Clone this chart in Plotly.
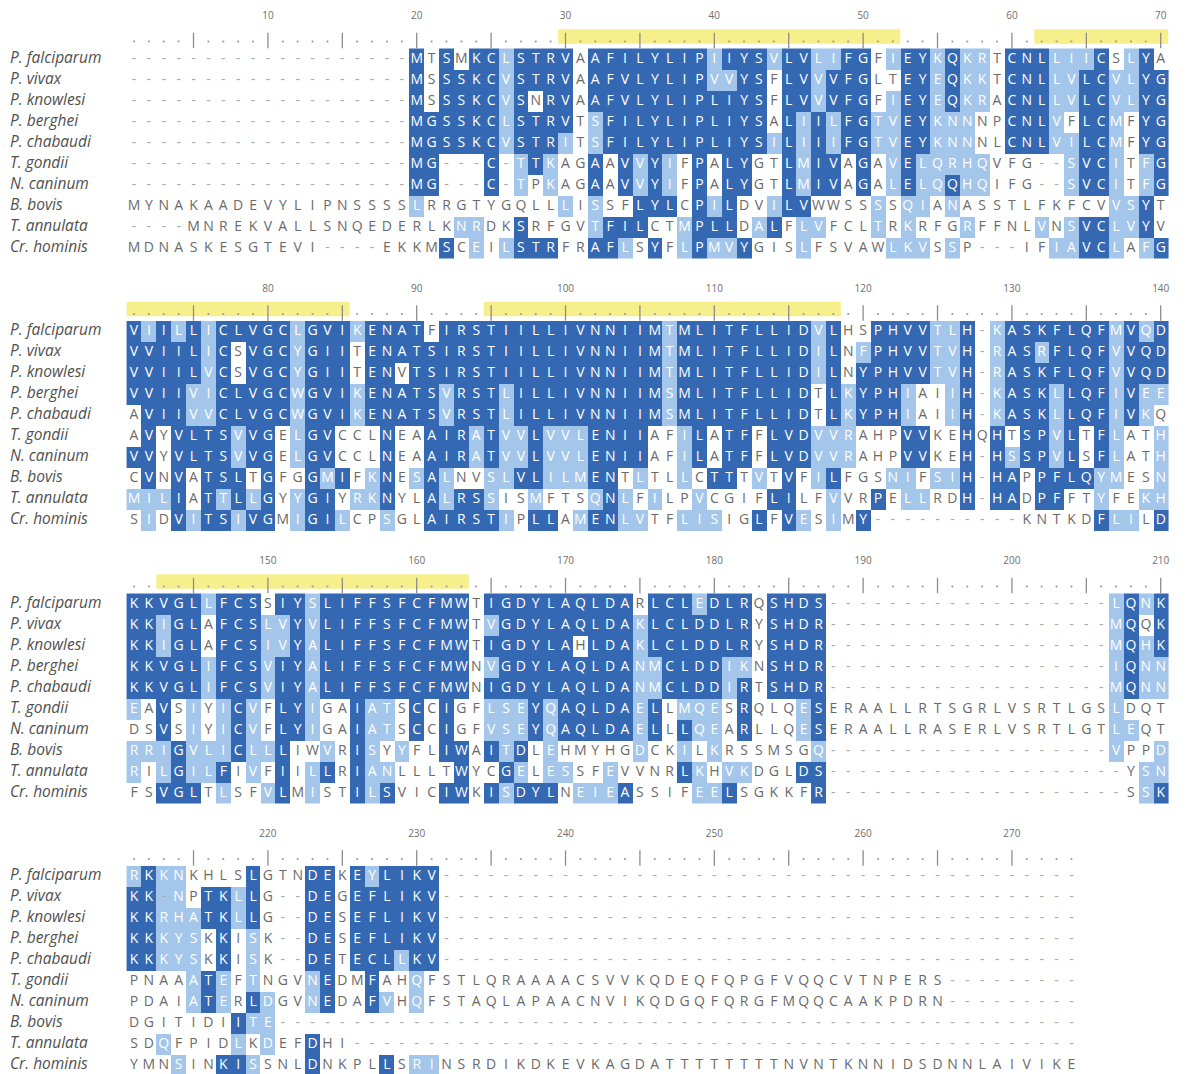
import plotly.graph_objects as go

# ---------------- data ----------------
SPECIES = ["P. falciparum", "P. vivax", "P. knowlesi", "P. berghei", "P. chabaudi",
           "T. gondii", "N. caninum", "B. bovis", "T. annulata", "Cr. hominis"]

# alignment columns 1-70
SEQ_BLOCK1 = [
    "-------------------MTSMKCLSTRVAAFILYLIPIIYSVLVLIFGFIEYKQKRTCNLLIICSLYA",
    "-------------------MSSSKCVSTRVAAFVLYLIPVVYSFLVVVFGLTEYEQKKTCNLLVLCVLYG",
    "-------------------MSSSKCVSNRVAAFVLYLIPLIYSFLVVVFGFIEYEQKRACNLLVLCVLYG",
    "-------------------MGSSKCLSTRVTSFILYLIPLIYSALIILFGTVEYKNNNPCNLVFLCMFYG",
    "-------------------MGSSKCVSTRITSFILYLIPLIYSILIIIFGTVEYKNNNLCNLVILCMFYG",
    "-------------------MG---C-TTKAGAAVVYIFPALYGTLMIVAGAVELQRHQVFG--SVCITFG",
    "-------------------MG---C-TPKAGAAVVYIFPALYGTLMIVAGALELQQHQIFG--SVCITFG",
    "MYNAKAADEVYLIPNSSSSLRRGTYGQLLLISSFLYLCPILDVILVWWSSSSQIANASSTLFKFCVVSYT",
    "----MNREKVALLSNQEDERLKNRDKSRFGVTFILCTMPLLDALFLVFCLTRKRFGRFFNLVNSVCLVYV",
    "MDNASKESGTEVI----EKKMSCEILSTRFRAFLSYFLPMVYGISLFSVAWLKVSSP---IFIAVCLAFG",
]
# alignment columns 71-140
SEQ_BLOCK2 = [
    "VIILLICLVGCLGVIKENATFIRSTIILLIVNNIIMTMLITFLLIDVLHSPHVVTLH-KASKFLQFMVQD",
    "VVIILICSVGCYGIITENATSIRSTIILLIVNNIIMTMLITFLLIDILNFPHVVTVH-RASRFLQFVVQD",
    "VVIILVCSVGCYGIITENVTSIRSTIILLIVNNIIMTMLITFLLIDILNYPHVVTVH-RASKFLQFVVQD",
    "VVIIVICLVGCWGVIKENATSVRSTLILLIVNNIIMSMLITFLLIDTLKYPHIAIIH-KASKLLQFIVEE",
    "AVIIVVCLVGCWGVIKENATSVRSTLILLIVNNIIMSMLITFLLIDTLKYPHIAIIH-KASKLLQFIVKQ",
    "AVYVLTSVVGELGVCCLNEAAIRATVVLVVLENIIAFILATFFLVDVVRAHPVVKEHQHTSPVLTFLATH",
    "VVYVLTSVVGELGVCCLNEAAIRATVVLVVLENIIAFILATFFLVDVVRAHPVVKEH-HSSPVLSFLATH",
    "CVNVATSLTGFGGMIFKNESALNVSLVLILMENTLTLLCTTTVTVFILFGSNIFSIH-HAPPFLQYMESN",
    "MILIATTLLGYYGIYRKNYLALRSSISMFTSQNLFILPVCGIFLILFVVRPELLRDH-HADPFFTYFEKH",
    "SIDVITSIVGMIGILCPSGLAIRSTIPLLAMENLVTFLISIGLFVESIMY----------KNTKDFLILD",
]
# alignment columns 141-210
SEQ_BLOCK3 = [
    "KKVGLLFCSSIYSLIFFSFCFMWTIGDYLAQLDARLCLEDLRQSHDS-------------------LQNK",
    "KKIGLAFCSLVYVLIFFSFCFMWTVGDYLAQLDAKLCLDDLRYSHDR-------------------MQQK",
    "KKIGLAFCSIVYALIFFSFCFMWTIGDYLAHLDAKLCLDDLRYSHDR-------------------MQHK",
    "KKVGLIFCSVIYALIFFSFCFMWNVGDYLAQLDANMCLDDIKNSHDR-------------------IQNN",
    "KKVGLIFCSVIYALIFFSFCFMWNIGDYLAQLDANMCLDDIRTSHDR-------------------MQNN",
    "EAVSIYICVFLYIGAIATSCCIGFLSEYQAQLDAELLMQESRQLQESERAALLRTSGRLVSRTLGSLDQT",
    "DSVSIYICVFLYIGAIATSCCIGFVSEYQAQLDAELLLQEARLLQESERAALLRASERLVSRTLGTLEQT",
    "RRIGVLICLLLIWVRISYYFLIWAITDLEHMYHGDCKILKRSSMSGQ-------------------VPPD",
    "RILGILFIVFIILLRIANLLLTWYCGELESSFEVVNRLKHVKDGLDS--------------------YSN",
    "FSVGLTLSFVLMISTILSVICIWKISDYLNEIEASSIFEELSGKKFR--------------------SSK",
]
# alignment columns 211-274
SEQ_BLOCK4 = [
    "RKKNKHLSLGTNDEKEYLIKV-------------------------------------------",
    "KK-NPTKLLG--DEGEFLIKV-------------------------------------------",
    "KKRHATKLLG--DESEFLIKV-------------------------------------------",
    "KKKYSKKISK--DESEFLIKV-------------------------------------------",
    "KKKYSKKISK--DETECLLKV-------------------------------------------",
    "PNAAATEFTNGVNEDMFAHQFSTLQRAAAACSVVKQDEQFQPGFVQQCVTNPERS---------",
    "PDAIATERLDGVNEDAFVHQFSTAQLAPAACNVIKQDGQFQRGFMQQCAAKPDRN---------",
    "DGITIDIITE------------------------------------------------------",
    "SDQFPIDLKDEFDHI-------------------------------------------------",
    "YMNSINKISSNLDNKPLLSRINSRDIKDKEVKAGDATTTTTTTTNVNTKNNIDSDNNLAIVIKE",
]

# shading: 0 = none, 1 = similar (light), 2 = identical (dark)
SHADE_BLOCK1 = [
    "0000000000" "000000000" "2020221222" "2022222222" "1222122112" "2012212110" "22211120120",
    "0000000000" "000000000" "2022221222" "2022222222" "1122022122" "2002212110" "22211221122",
    "0000000000" "000000000" "2022221202" "2022222222" "2222022122" "2012212110" "22211221122",
    "0000000000" "000000000" "2222221222" "2012222222" "2222021212" "2112211100" "22210221022",
    "0000000000" "000000000" "2222221222" "1012222222" "2222121212" "2112211100" "22211221022",
    "0000000000" "000000000" "2200020121" "0020212102" "0220021220" "2012111110" "00001221012",
    "0000000000" "000000000" "2200020101" "0020212102" "0220021220" "2012112110" "00001221012",
    "0000000000" "000000000" "1000000000" "1010022202" "1200122000" "0101101000" "00000001120",
    "0000000000" "000000000" "0001100200" "0012220012" "2201201100" "0101000100" "00101221120",
    "0000000000" "000000000" "0020101222" "0022102012" "1120001000" "0011101000" "00011221012",
]
SHADE_BLOCK2 = [
    "2121212222" "2122212222" "0222222222" "2222221222" "2222221200" "2222112012" "2222221212",
    "2222212022" "2122202222" "2222222222" "2222221222" "2222221201" "2222112012" "2122221222",
    "2222212022" "2122202202" "2222222222" "2222221222" "2222221202" "2222112012" "2222221222",
    "2222112222" "2122212222" "2122212222" "2222221222" "2222220212" "2210012012" "2212221211",
    "0222112222" "2122212222" "2122212222" "2222221222" "2222220212" "2210012012" "2212221210",
    "0202222122" "0122000200" "2221211211" "1222200120" "2202221110" "0022002020" "2212021001",
    "2202222122" "0122000200" "2221211211" "1222200120" "2202221110" "0022002021" "2212021001",
    "0202022202" "0021201201" "2100112211" "1220100102" "2010201200" "0110112022" "0222211001",
    "1112021212" "0122011200" "2122100100" "0121010010" "0002200100" "2011002022" "0220010011",
    "0102122122" "0122100100" "2222210220" "1221100111" "0020210102" "0000000000" "0000021102",
]
SHADE_BLOCK3 = [
    "2222212220" "2212222222" "2220222222" "2222022212" "2202222000" "0000000000" "0000001212",
    "2212202221" "1212222222" "2220122222" "2222122222" "2202222000" "0000000000" "0000001202",
    "2212202221" "1212222222" "2220222222" "0222122222" "2202222000" "0000000000" "0000001212",
    "2222212221" "2212222222" "2220122222" "2222112222" "1102222000" "0000000000" "0000001211",
    "2222212221" "2212222222" "2220222222" "2222112222" "1202222000" "0000000000" "0000001211",
    "1020101210" "2210021102" "0200111212" "2222120111" "0200012000" "0000000000" "0000001000",
    "0020101210" "2210021102" "0200111212" "2222120211" "0200012000" "0000000000" "0000001100",
    "1112111211" "2001021010" "0220212010" "0000100101" "0000001000" "0000000000" "0000001001",
    "1012112010" "2012021100" "0020021011" "0010000210" "1100022000" "0000000000" "0000000011",
    "0022201001" "2010021200" "0220212220" "1112000011" "2000002000" "0000000000" "0000000012",
]
SHADE_BLOCK4 = [
    "1211000020" "00220212222",
    "2211022120" "00220222222",
    "2211122120" "00220222222",
    "2211102010" "00220222222",
    "2211102010" "00220222122",
    "0000121010" "0012002001",
    "0000121021" "0012002101",
    "0000000211",
    "0010000101" "00200",
    "0001002210" "00200002011",
]

# predicted transmembrane helices (alignment column ranges)
TM_HELICES = [(30, 52), (62, 85), (95, 118), (143, 163)]
BLOCK_START = [1, 71, 141, 211]
RULER_LENGTH = [70, 70, 70, 64]

# ---------------- styling / geometry ----------------
# the page body has an 8px default margin, geometry below is relative to the figure
W, H = 1178, 1066
PX_COL1 = 126.0      # pixel centre of first column
DX = 14.88           # pixel width of one column
ROW_H = 21.0         # pixel height of one row
ROW0 = 51.0          # pixel centre of first row
BLOCK_STEP = 272.5   # pixel distance between blocks
DARK = "#3568b3"
LIGHT = "#a3c6ea"
YELLOW = "#f7ef8c"
TXT_GREY = "#6a6a6a"
GAP_GREY = "#a8a8a8"
LETTER_FONT = "Open Sans"


def yrow(b, r):
    return (b * BLOCK_STEP) / ROW_H + r


seq_blocks = [SEQ_BLOCK1, SEQ_BLOCK2, SEQ_BLOCK3, SEQ_BLOCK4]
shade_blocks = [SHADE_BLOCK1, SHADE_BLOCK2, SHADE_BLOCK3, SHADE_BLOCK4]

fig = go.Figure()

colorscale = [[0, "#ffffff"], [1 / 3, "#ffffff"], [1 / 3, LIGHT], [2 / 3, LIGHT],
              [2 / 3, DARK], [1, DARK]]

lx, ly, lt, lc = [], [], [], []
for b in range(4):
    seqs = seq_blocks[b]
    shades = shade_blocks[b]
    n = RULER_LENGTH[b]
    z = []
    for r in range(10):
        s = seqs[r]
        assert len(s) == n, (b, r, len(s))
        sh = shades[r].ljust(n, "0")
        assert len(sh) == n, ("shade", b, r, len(sh))
        z.append([int(c) for c in sh])
        for c in range(n):
            ch = s[c]
            lx.append(c + 1)
            ly.append(yrow(b, r))
            lt.append(ch)
            if ch == "-":
                lc.append(GAP_GREY)
            elif sh[c] in "12":
                lc.append("#ffffff")
            else:
                lc.append(TXT_GREY)
    fig.add_trace(go.Heatmap(
        x=list(range(1, n + 1)), y=[yrow(b, r) for r in range(10)], z=z,
        zmin=-0.5, zmax=2.5, colorscale=colorscale, showscale=False,
        hoverinfo="skip", xgap=0, ygap=0))

# TM helix bars (split at block boundaries)
for (s, e) in TM_HELICES:
    for b in range(4):
        bs = BLOCK_START[b]
        be = bs + RULER_LENGTH[b] - 1
        a, z2 = max(s, bs), min(e, be)
        if a <= z2:
            fig.add_trace(go.Bar(
                orientation="h", y=[yrow(b, 0) - 22.5 / ROW_H], x=[z2 - a + 1],
                base=[a - bs + 0.5], width=[14.5 / ROW_H],
                marker=dict(color=YELLOW, line=dict(width=0)),
                hoverinfo="skip"))

# ruler dots, ticks and numbers
dx_, dy_, tx_, ty_, nx_, ny_, nt_ = [], [], [], [], [], [], []
for b in range(4):
    for c in range(1, RULER_LENGTH[b] + 1):
        g = BLOCK_START[b] + c - 1
        if g % 5 == 0:
            tx_.append(c); ty_.append(yrow(b, 0) - 18.5 / ROW_H)
        else:
            dx_.append(c); dy_.append(yrow(b, 0) - 17.5 / ROW_H)
        if g % 10 == 0:
            nx_.append(c); ny_.append(yrow(b, 0) - 42.5 / ROW_H); nt_.append(str(g))

fig.add_trace(go.Scatter(x=dx_, y=dy_, mode="markers",
                         marker=dict(symbol="circle", size=2.2, color="#9a9a9a"),
                         hoverinfo="skip"))
fig.add_trace(go.Scatter(x=tx_, y=ty_, mode="markers",
                         marker=dict(symbol="line-ns", size=11,
                                     line=dict(width=1.3, color="#8c8c8c")),
                         hoverinfo="skip"))
fig.add_trace(go.Scatter(x=nx_, y=ny_, mode="text", text=nt_,
                         textfont=dict(family="Open Sans", size=10, color="#6e6e6e"),
                         hoverinfo="skip"))

# residues
fig.add_trace(go.Scatter(x=lx, y=ly, mode="text", text=lt,
                         textfont=dict(family=LETTER_FONT, size=14, color=lc),
                         textposition="middle center", hoverinfo="skip"))

# species labels
label_x = 1 + (2 - PX_COL1) / DX
sx, sy, st = [], [], []
for b in range(4):
    for r in range(10):
        sx.append(label_x); sy.append(yrow(b, r)); st.append(SPECIES[r])
fig.add_trace(go.Scatter(x=sx, y=sy, mode="text", text=st, textposition="middle right",
                         textfont=dict(family="Open Sans", size=15.5, color="#505050",
                                       style="italic"),
                         hoverinfo="skip"))

x0 = 1 - PX_COL1 / DX
x1 = x0 + W / DX
y_top = -ROW0 / ROW_H
y_bot = y_top + H / ROW_H
fig.update_layout(
    width=W, height=H, margin=dict(l=0, r=0, t=0, b=0),
    paper_bgcolor="white", plot_bgcolor="white", showlegend=False,
    barmode="overlay",
    xaxis=dict(range=[x0, x1], visible=False, fixedrange=True),
    yaxis=dict(range=[y_bot, y_top], visible=False, fixedrange=True),
)
fig.write_html("out.html")
